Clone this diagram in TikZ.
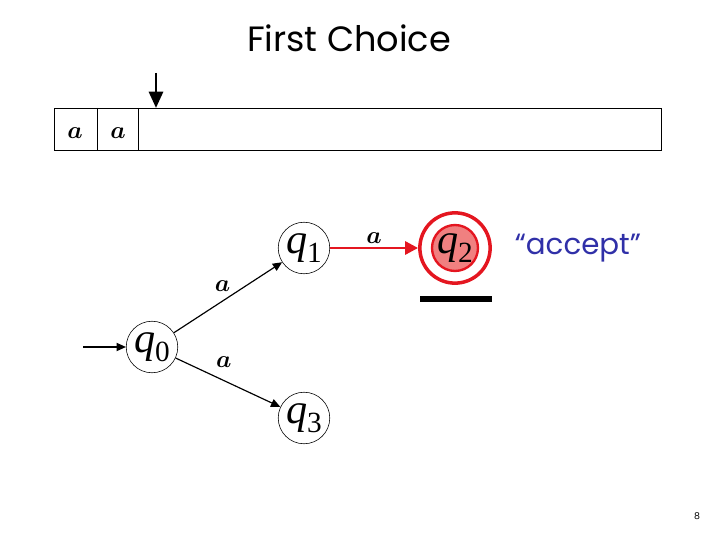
\documentclass[tikz,border=0pt]{standalone}
\usepackage{fontspec}
\usepackage{amsmath,bm}
\setsansfont{Poppins}
\newfontfamily\statefont{Liberation Serif}
\usetikzlibrary{arrows.meta,positioning}

\definecolor{acceptred}{RGB}{228,22,32}
\definecolor{statefill}{RGB}{240,128,128}
\definecolor{acceptblue}{RGB}{48,48,168}

\newcommand{\qstate}[1]{{\statefont\itshape q}\raisebox{-.22em}{\statefont\upshape\fontsize{25}{25}\selectfont #1}}

\tikzset{
  state/.style={circle,draw,line width=0.5pt,minimum size=44pt,inner sep=0pt,
    font=\fontsize{36}{36}\selectfont},
  trans/.style={-{Triangle[length=8pt,width=7pt]},line width=1pt},
  sym/.style={font=\fontsize{20}{20}\selectfont,inner sep=1pt},
}

\begin{document}
\begin{tikzpicture}[x=0.03cm,y=-0.03cm]
    \useasboundingbox (0,0) rectangle (720,540);
    % title
    \node[font=\sffamily\fontsize{30}{30}\selectfont] (title) at (349,38) {First Choice};

    % tape and head
    \draw[line width=0.6pt] (54,108) rectangle (661,150);
    \draw[line width=0.6pt] (97,108) -- (97,150);
    \draw[line width=0.6pt] (138,108) -- (138,150);
    \node[sym] (cella) at (75,133) {$\bm{a}$};
    \node[sym] (cellb) at (118,133) {$\bm{a}$};
    \coordinate (headtop) at (156,73);
    \coordinate (headtip) at (156,108);
    \draw[-{Triangle[length=14pt,width=12pt]},line width=2.5pt] (headtop) -- (headtip);

    % states
    \node[state] (q0) at (152,347) {\qstate{0}};
    \node[state] (q1) at (304,248) {\qstate{1}};
    \node[state] (q3) at (304,418) {\qstate{3}};
    \node[state,draw=acceptred,line width=2pt,fill=statefill,minimum size=39pt] (q2) at (455,248) {\qstate{2}};
    \node[circle,draw=acceptred,line width=3pt,minimum size=60pt] (q2ring) at (q2) {};
    \draw[line width=4.5pt] (420,299) -- (492,299);

    % transitions
    \coordinate (start) at (83,347);
    \draw[trans] (start) -- (q0);
    \draw[trans] (q0) -- node[sym,pos=.45,above=7pt] {$\bm{a}$} (q1);
    \draw[trans] (q0) -- node[sym,pos=.46,above=9.5pt] {$\bm{a}$} (q3);
    \draw[trans,acceptred,line width=2.5pt,-{Triangle[length=11pt,width=11pt]}]
      (q1) -- node[sym,black,above=1.3pt] {$\bm{a}$} (q2ring);

    \node[font=\sffamily\fontsize{25}{25}\selectfont,text=acceptblue,right=16pt of q2ring] (accept) {“accept”};
    \node[font=\sffamily\footnotesize] (page) at (697,516) {8};
\end{tikzpicture}
\end{document}
